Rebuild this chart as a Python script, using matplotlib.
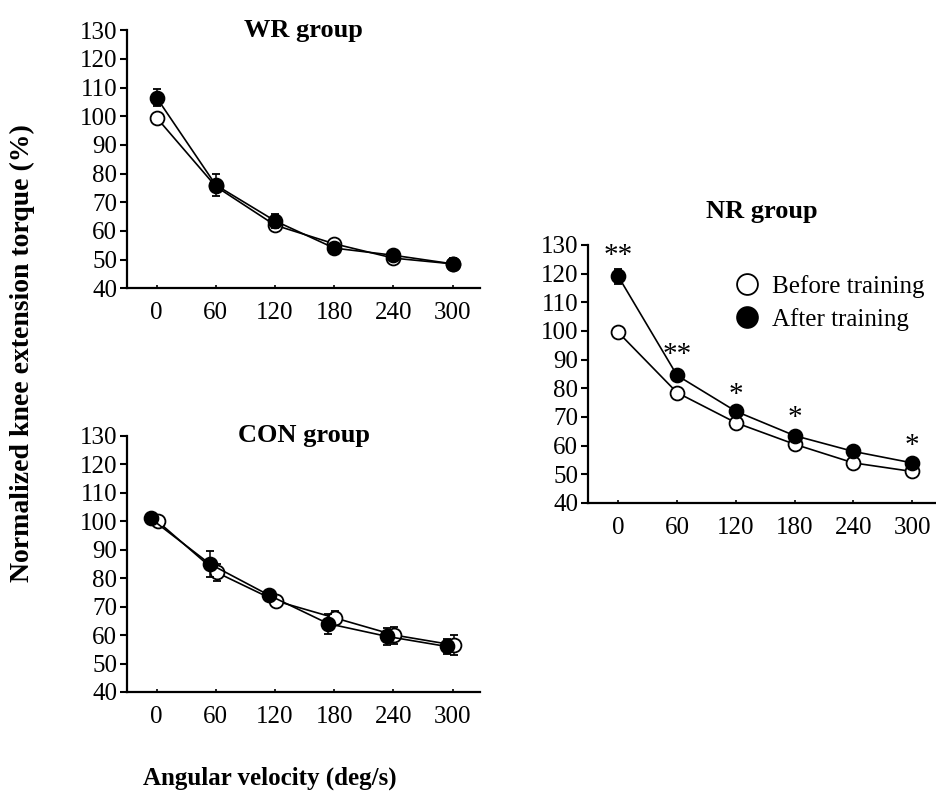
import matplotlib
matplotlib.use("Agg")
import matplotlib.pyplot as plt
import numpy as np

plt.rcParams['font.family'] = ['Liberation Serif', 'DejaVu Serif']

velocity = [0, 60, 120, 180, 240, 300]
tick_labels = ["0", "60", "120", "180", "240", "300"]
y_ticks = [40, 50, 60, 70, 80, 90, 100, 110, 120, 130]

wr_before = [99.5, 75.5, 62.0, 55.5, 50.5, 48.5]
wr_before_err = [1.0, 2.0, 1.5, 1.5, 1.0, 1.0]
wr_after = [106.5, 76.0, 63.5, 54.0, 51.5, 48.5]
wr_after_err = [3.0, 4.0, 2.5, 1.5, 1.5, 2.0]

con_before = [100.0, 82.0, 72.0, 66.0, 60.0, 56.5]
con_before_err = [1.0, 3.0, 1.5, 2.5, 3.0, 3.5]
con_after = [101.0, 85.0, 74.0, 64.0, 59.5, 56.0]
con_after_err = [1.0, 4.5, 2.0, 3.5, 3.0, 2.5]

nr_before = [99.5, 78.5, 68.0, 60.5, 54.0, 51.0]
nr_before_err = [0.5, 0.8, 0.8, 0.8, 0.8, 0.8]
nr_after = [119.0, 84.5, 72.0, 63.5, 58.0, 54.0]
nr_after_err = [2.5, 1.0, 1.0, 1.0, 1.0, 1.0]

nr_sig_x = [0, 60, 120, 180, 300]
nr_sig_y = [126.0, 91.5, 77.5, 69.5, 60.0]
nr_sig_text = ["**", "**", "*", "*", "*"]

fig = plt.figure(figsize=(9.37, 7.94), dpi=100)

def make_ax(rect, xlim):
    ax = fig.add_axes(rect)
    ax.set_xlim(*xlim)
    ax.set_ylim(40, 130)
    ax.set_yticks(y_ticks)
    ax.set_xticks(velocity)
    ax.set_xticklabels(tick_labels)
    for s in ['top', 'right']:
        ax.spines[s].set_visible(False)
    for s in ['left', 'bottom']:
        ax.spines[s].set_linewidth(1.6)
    ax.tick_params(axis='y', direction='out', length=5, width=1.5, labelsize=18, pad=2)
    ax.tick_params(axis='x', direction='in', length=2, width=1.2, labelsize=18, pad=10)
    return ax

def draw(ax, xb, before, berr, xa, after, aerr):
    ax.errorbar(xb, before, yerr=berr, color='black', lw=1.2, marker='o',
                ms=10, mfc='white', mec='black', mew=1.3, capsize=3,
                elinewidth=1.1, zorder=3, label='Before training')
    ax.errorbar(xa, after, yerr=aerr, color='black', lw=1.2, marker='o',
                ms=10, mfc='black', mec='black', mew=1.3, capsize=3,
                elinewidth=1.1, zorder=4, label='After training')

x = np.array(velocity, dtype=float)

# WR group
ax1 = make_ax([0.1355, 0.637, 0.377, 0.325], (-30, 328))
draw(ax1, x, wr_before, wr_before_err, x, wr_after, wr_after_err)
ax1.text(0.5, 1.0, "WR group", transform=ax1.transAxes, ha='center', va='center',
         fontsize=19, fontweight='bold')

# CON group
ax2 = make_ax([0.1355, 0.1285, 0.377, 0.3225], (-30, 328))
draw(ax2, x + 1, con_before, con_before_err, x - 6, con_after, con_after_err)
ax2.text(0.5, 1.0, "CON group", transform=ax2.transAxes, ha='center', va='center',
         fontsize=19, fontweight='bold')

# NR group
ax3 = make_ax([0.6275, 0.3665, 0.372, 0.325], (-31, 325))
draw(ax3, x, nr_before, nr_before_err, x, nr_after, nr_after_err)
ax3.text(0.5, 1.13, "NR group", transform=ax3.transAxes, ha='center', va='center',
         fontsize=19, fontweight='bold')
for sx, sy, st in zip(nr_sig_x, nr_sig_y, nr_sig_text):
    ax3.text(sx, sy, st, ha='center', va='center', fontsize=21)
handles = [plt.Line2D([], [], ls='none', marker='o', ms=15, mfc='white', mec='black', mew=1.3),
           plt.Line2D([], [], ls='none', marker='o', ms=15, mfc='black', mec='black', mew=1.3)]
ax3.legend(handles, ["Before training", "After training"], loc='upper right',
           bbox_to_anchor=(1.03, 0.97), frameon=False, fontsize=18, handletextpad=0.4,
           handlelength=1.2, labelspacing=0.4)

fig.text(0.024, 0.555, "Normalized knee extension torque (%)", rotation=90,
         ha='center', va='center', fontsize=20, fontweight='bold')
fig.text(0.288, 0.02, "Angular velocity (deg/s)", ha='center', va='center',
         fontsize=18, fontweight='bold')

fig.savefig("out.png", dpi=100)
